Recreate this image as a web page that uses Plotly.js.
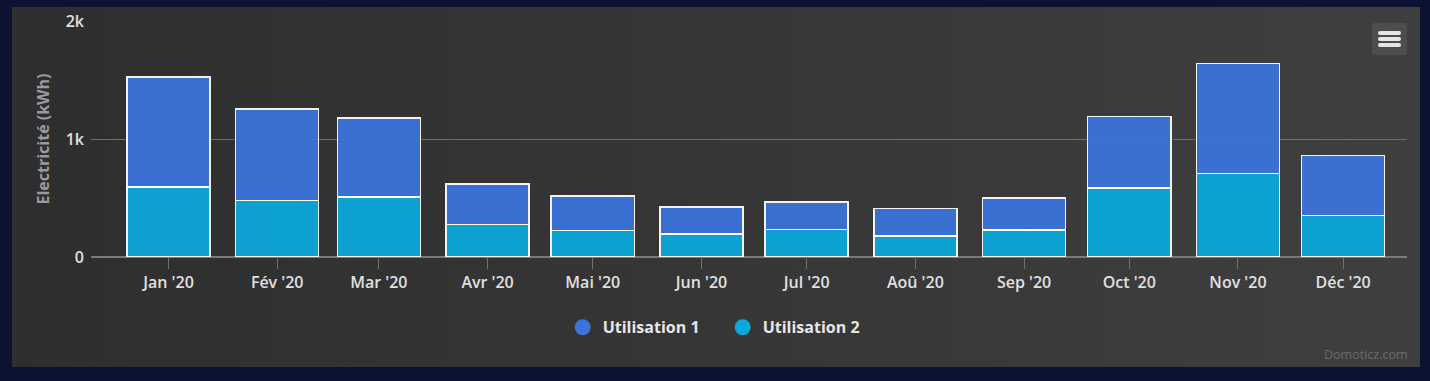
<!DOCTYPE html>
<html>
<head>
<meta charset="utf-8">
<script src="https://cdn.plot.ly/plotly-3.0.1.min.js"></script>
<style>
  html, body { margin:0; padding:0; width:1430px; height:381px; background:#0c1232; overflow:hidden; }
  #box { position:absolute; left:12px; top:7px; width:1408px; height:360px;
         background: linear-gradient(to right, #2e2e2e 0%, #363636 50%, #3f3f3f 100%); }
  #chart { position:absolute; left:0; top:0; width:1408px; height:360px; }
  #menu { position:absolute; left:1360px; top:16px; width:35px; height:32px; background:#4d4d4d; border-radius:3px; }
  #menu div { position:absolute; left:6px; width:23px; height:4px; background:#e6e6e6; border-radius:2px; }
</style>
</head>
<body>
<div id="box">
  <div id="chart"></div>
  <div id="menu"><div style="top:8px"></div><div style="top:14px"></div><div style="top:20px"></div></div>
</div>
<script>
// ---- data ----
const months = ['2020-01-01','2020-02-01','2020-03-01','2020-04-01','2020-05-01','2020-06-01',
                '2020-07-01','2020-08-01','2020-09-01','2020-10-01','2020-11-01','2020-12-01'];
const monthLabels = ["Jan '20","Fév '20","Mar '20","Avr '20","Mai '20","Jun '20",
                     "Jul '20","Aoû '20","Sep '20","Oct '20","Nov '20","Déc '20"];
const utilisation1 = [932, 776, 670, 344, 293, 228, 231, 230, 273, 608, 932, 509];
const utilisation2 = [592, 478, 507, 274, 223, 197, 234, 180, 228, 584, 706, 350];
const seriesNames = ['Utilisation 1', 'Utilisation 2'];
const yTitle = 'Electricité (kWh)';
const credit = 'Domoticz.com';

const colBlue = '#3b73dc';
const colCyan = '#0ba8dc';
const barWidthMs = 23.7 * 86400000;
const font = 'Open Sans, DejaVu Sans, sans-serif';

const traces = [
  { type:'bar', x: months, y: utilisation2, name: seriesNames[1], width: barWidthMs,
    marker:{ color: colCyan, opacity:0.94, line:{ color:'#ffffff', width:1.5 } },
    showlegend:false, hoverinfo:'y+name' },
  { type:'bar', x: months, y: utilisation1, name: seriesNames[0], width: barWidthMs,
    marker:{ color: colBlue, opacity:0.94, line:{ color:'#ffffff', width:1.5 } },
    showlegend:false, hoverinfo:'y+name' },
  { type:'scatter', mode:'markers', x:[null], y:[null], name: seriesNames[0],
    marker:{ color: colBlue, size:18, symbol:'circle' }, legendrank:1 },
  { type:'scatter', mode:'markers', x:[null], y:[null], name: seriesNames[1],
    marker:{ color: colCyan, size:18, symbol:'circle' }, legendrank:2 }
];

const layout = {
  width:1408, height:360,
  margin:{ l:79, r:13, t:14, b:110.2 },
  paper_bgcolor:'rgba(0,0,0,0)', plot_bgcolor:'rgba(0,0,0,0)',
  barmode:'stack', bargap:0,
  font:{ family: font, color:'#e0e0e0' },
  xaxis:{
    type:'date', range:['2019-12-09 21:36','2020-12-19 05:00'],
    tickmode:'array', tickvals: months, ticktext: monthLabels,
    ticks:'outside', ticklen:11, tickcolor:'#707070', tickwidth:1,
    tickfont:{ family: font, size:16, color:'#e0e0e0', weight:600 },
    showgrid:false, showline:false, zeroline:false, fixedrange:true
  },
  yaxis:{
    range:[0,2000], dtick:1000, tickformat:'~s',
    showgrid:true, gridcolor:'#6e6e6e', gridwidth:1,
    zeroline:true, zerolinecolor:'#7a7a7a', zerolinewidth:2,
    ticks:'', ticklabelstandoff:6,
    tickfont:{ family: font, size:16, color:'#e0e0e0', weight:600 },
    title:{ text: yTitle, standoff:12, font:{ family: font, size:16, color:'#9a9a9a', weight:700 } },
    fixedrange:true
  },
  legend:{
    orientation:'h', x:0.480, xanchor:'center', y:-0.298, yanchor:'middle',
    traceorder:'normal', itemwidth:30, entrywidth:115, entrywidthmode:'pixels',
    font:{ family: font, size:16, color:'#e6e6e6', weight:700 },
    bgcolor:'rgba(0,0,0,0)'
  },
  annotations:[{
    text: credit, xref:'paper', yref:'paper', x:1.002, y:-0.412, xanchor:'right', yanchor:'middle',
    showarrow:false, font:{ family: font, size:12.5, color:'#6a6a6a' }
  }],
  hovermode:false
};

Plotly.newPlot('chart', traces, layout, { displayModeBar:false, staticPlot:true });
</script>
</body>
</html>
